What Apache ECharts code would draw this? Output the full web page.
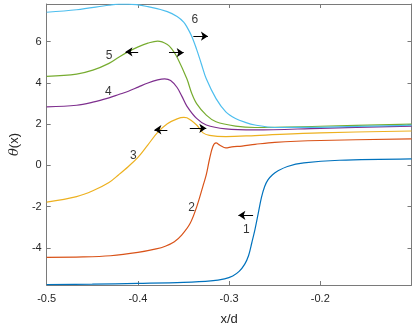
<!DOCTYPE html>
<html>
<head>
<meta charset="utf-8">
<script src="https://cdn.jsdelivr.net/npm/echarts@6/dist/echarts.min.js"></script>
<style>
html,body{margin:0;padding:0;background:#fff;}
#c{width:415px;height:331px;}
</style>
</head>
<body>
<div id="c"></div>
<script>
// ---- data ----
const xTicks = [-0.5, -0.4, -0.3, -0.2];
const xTickMarks = [-0.5, -0.4, -0.3, -0.2, -0.1];
const yTicks = [-4, -2, 0, 2, 4, 6];

const curve1 = [[-0.5,-5.78],[-0.45,-5.76],[-0.4,-5.72],[-0.35,-5.67],[-0.32,-5.6],[-0.305,-5.5],[-0.296,-5.36],[-0.289,-5.14],[-0.283,-4.8],[-0.2787,-4.38],[-0.2751,-3.75],[-0.2716,-3.1],[-0.2681,-2.34],[-0.2645,-1.55],[-0.261,-1.02],[-0.2574,-0.7],[-0.2524,-0.45],[-0.2467,-0.27],[-0.236,-0.05],[-0.218,0.12],[-0.179,0.25],[-0.1,0.32]];
const curve2 = [[-0.5,-4.46],[-0.46,-4.44],[-0.43,-4.38],[-0.4,-4.22],[-0.38,-4.05],[-0.37,-3.92],[-0.36,-3.7],[-0.352,-3.38],[-0.3428,-2.82],[-0.3356,-2.02],[-0.3285,-0.98],[-0.325,-0.45],[-0.3215,0.3],[-0.3178,0.92],[-0.3143,1.09],[-0.31,0.98],[-0.3036,0.85],[-0.297,0.9],[-0.2858,0.94],[-0.2716,1.02],[-0.25,1.12],[-0.2,1.21],[-0.1,1.29]];
const curve3 = [[-0.5,-1.78],[-0.4672,-1.51],[-0.4494,-1.23],[-0.4317,-0.83],[-0.421,-0.45],[-0.4104,-0.05],[-0.3997,0.4],[-0.389,1.0],[-0.3783,1.6],[-0.3677,2.02],[-0.357,2.26],[-0.3495,2.33],[-0.3463,2.31],[-0.3356,1.96],[-0.3285,1.58],[-0.3215,1.46],[-0.3036,1.4],[-0.2716,1.45],[-0.2,1.58],[-0.1,1.67]];
const curve4 = [[-0.5,2.84],[-0.4672,2.92],[-0.4494,3.07],[-0.4317,3.28],[-0.421,3.44],[-0.4104,3.6],[-0.3997,3.8],[-0.389,4.0],[-0.3783,4.15],[-0.3706,4.2],[-0.3641,4.12],[-0.357,3.78],[-0.3517,3.35],[-0.3463,2.88],[-0.3356,2.28],[-0.325,1.96],[-0.3036,1.77],[-0.2716,1.72],[-0.2,1.8],[-0.1,1.91]];
const curve5 = [[-0.5,4.32],[-0.4672,4.43],[-0.4494,4.62],[-0.4317,4.95],[-0.421,5.25],[-0.4104,5.52],[-0.3997,5.75],[-0.389,5.93],[-0.3783,6.03],[-0.3677,5.87],[-0.3623,5.62],[-0.357,5.25],[-0.3463,4.2],[-0.341,3.5],[-0.3356,3.0],[-0.325,2.44],[-0.3143,2.12],[-0.293,1.91],[-0.2716,1.84],[-0.2,1.9],[-0.1,2.0]];
const curve6 = [[-0.5,7.43],[-0.4672,7.55],[-0.4317,7.77],[-0.421,7.82],[-0.4104,7.82],[-0.389,7.7],[-0.3677,7.46],[-0.357,7.22],[-0.3498,6.95],[-0.3463,6.72],[-0.341,6.27],[-0.3356,5.63],[-0.3303,4.91],[-0.325,4.2],[-0.3143,3.24],[-0.3036,2.6],[-0.293,2.28],[-0.2823,2.09],[-0.2716,1.96],[-0.25,1.84],[-0.2,1.85],[-0.1,1.95]];

const curveNames = ['1','2','3','4','5','6'];
const curveLabels = [[-0.2812,-3.12],[-0.341,-2.06],[-0.405,0.46],[-0.4324,3.59],[-0.4317,5.31],[-0.3375,7.09]];
const arrows = [
  [[-0.2737,-2.42],[-0.2898,-2.42]],
  [[-0.3677,1.73],[-0.3819,1.73]],
  [[-0.3431,1.80],[-0.325,1.80]],
  [[-0.3997,5.51],[-0.4136,5.51]],
  [[-0.3659,5.47],[-0.3498,5.47]],
  [[-0.3392,6.27],[-0.3232,6.27]]
];

const colors = ['#0072BD','#D95319','#EDB120','#7E2F8E','#77AC30','#4DBEEE'];
const curves = [curve1,curve2,curve3,curve4,curve5,curve6];

const FONT = '"Liberation Sans", Arial, Helvetica, sans-serif';
const AX = '#7a7a7a';
const TXT = '#262626';

const chart = echarts.init(document.getElementById('c'), null, {renderer:'canvas'});

const baseX = {
  type:'value', min:-0.5, max:-0.1,
  axisLine:{show:true, onZero:false, lineStyle:{color:AX, width:1}},
  splitLine:{show:false}
};
const baseY = {
  type:'value', min:-5.8, max:7.83,
  axisLine:{show:true, onZero:false, lineStyle:{color:AX, width:1}},
  splitLine:{show:false}
};

const series = curves.map((c,i)=>({
  type:'line', data:c, xAxisIndex:0, yAxisIndex:0,
  showSymbol:false, smooth:0.35, z:2,
  lineStyle:{color:colors[i], width:1.2},
  itemStyle:{color:colors[i]}, silent:true, animation:false
}));

series.push({
  type:'scatter', xAxisIndex:0, yAxisIndex:0, symbolSize:0, silent:true, animation:false,
  data: curveLabels.map((p,i)=>({value:p, name:curveNames[i]})),
  label:{show:true, position:'inside', formatter:'{b}', color:'#000', fontSize:12, fontFamily:FONT}
});

series.push({
  type:'lines', coordinateSystem:'cartesian2d', xAxisIndex:0, yAxisIndex:0,
  silent:true, animation:false, z:5,
  symbol:['none','arrow'], symbolSize:7,
  lineStyle:{color:'#000', width:1.2, opacity:1},
  data: arrows.map(a=>({coords:a}))
});

chart.setOption({
  animation:false,
  grid:{left:36, right:3.5, top:4, bottom:42.5, containLabel:false},
  xAxis:[
    Object.assign({}, baseX, {
      position:'bottom',
      axisTick:{show:true, inside:true, length:4, lineStyle:{color:AX}, customValues:xTickMarks},
      axisLabel:{show:true, color:TXT, fontSize:11, fontFamily:FONT, margin:8, customValues:xTicks,
        formatter:v=>String(v)},
      name:'x/d', nameLocation:'middle', nameGap:28,
      nameTextStyle:{color:TXT, fontSize:13, fontFamily:FONT}
    }),
    Object.assign({}, baseX, {
      position:'top',
      axisTick:{show:true, inside:true, length:4, lineStyle:{color:AX}, customValues:xTickMarks},
      axisLabel:{show:false}
    })
  ],
  yAxis:[
    Object.assign({}, baseY, {
      position:'left',
      axisTick:{show:true, inside:true, length:4, lineStyle:{color:AX}, customValues:yTicks},
      axisLabel:{show:true, color:TXT, fontSize:11, fontFamily:FONT, margin:5, customValues:yTicks},
      name:'{t|θ}(x)', nameLocation:'middle', nameGap:25, nameRotate:90,
      nameTextStyle:{color:TXT, fontSize:13, fontFamily:FONT,
        rich:{t:{fontStyle:'italic', fontSize:13, fontFamily:'"DejaVu Serif", serif', color:TXT}}}
    }),
    Object.assign({}, baseY, {
      position:'right',
      axisTick:{show:true, inside:true, length:4, lineStyle:{color:AX}, customValues:yTicks},
      axisLabel:{show:false}
    })
  ],
  series: series
});
</script>
</body>
</html>
